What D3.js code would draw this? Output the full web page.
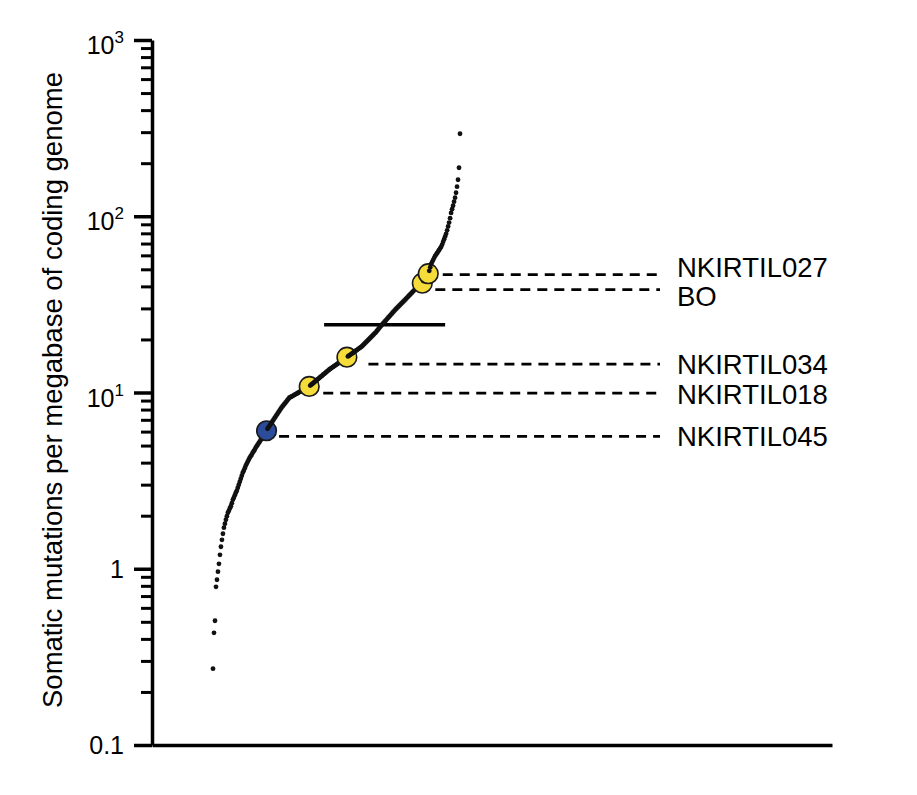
<!DOCTYPE html>
<html><head><meta charset="utf-8">
<script src="https://cdn.jsdelivr.net/npm/d3@7"></script>
<style>body{margin:0;background:#fff} svg{display:block}</style>
</head><body><svg id="c" width="917" height="795"></svg>
<script>
// Somatic mutations per Mb, samples sorted by rank
const mutationRate = [
 0.271,0.433,0.507,0.79,0.866,0.962,1.067,1.20,1.333,1.46,
 1.58,1.71,1.80,1.897,1.986,2.078,2.133,2.204,2.262,2.353,
 2.463,2.528,2.612,2.699,2.771,2.882,2.997,3.117,3.241,3.371,
 3.505,3.597,3.717,3.840,3.941,4.046,4.153,4.264,4.348,4.434,
 4.551,4.641,4.733,4.858,4.955,5.053,5.153,5.255,5.359,5.465,
 5.574,5.684,5.834,5.950,6.067,6.228,6.351,6.477,6.605,6.736,
 6.869,7.005,7.144,7.285,7.429,7.576,7.727,7.880,8.035,8.194,
 8.335,8.467,8.610,8.746,8.885,9.036,9.193,9.338,9.41,9.473,
 9.547,9.610,9.685,9.761,9.824,9.902,9.967,10.05,10.13,10.19,
 10.27,10.34,10.42,10.50,10.57,10.65,10.74,10.82,10.94,11.07,
 11.18,11.30,11.43,11.55,11.67,11.81,11.94,12.06,12.21,12.33,
 12.46,12.61,12.74,12.88,13.03,13.17,13.32,13.46,13.59,13.71,
 13.84,13.96,14.09,14.22,14.35,14.48,14.62,14.75,14.89,15.02,
 15.16,15.30,15.44,15.58,15.70,15.87,16.02,16.16,16.31,16.46,
 16.61,16.77,16.92,17.10,17.26,17.41,17.57,17.74,17.90,18.09,
 18.25,18.49,18.73,18.98,19.23,19.48,19.73,20.00,20.26,20.53,
 20.80,21.07,21.35,21.66,21.88,22.29,22.64,23.00,23.36,23.73,
 24.11,24.49,24.85,25.20,25.57,25.94,26.35,26.73,27.12,27.51,
 27.91,28.35,28.76,29.17,29.60,29.99,30.38,30.77,31.18,31.59,
 32.00,32.42,32.85,33.29,33.72,34.21,34.67,35.16,35.63,36.10,
 36.62,37.11,37.64,38.13,38.68,39.19,39.71,40.28,40.81,41.20,
 41.45,41.70,42.90,44.37,45.19,46.03,46.60,47.20,49.00,51.40,
 53.70,55.12,56.57,58.07,59.61,60.72,61.92,63.14,64.39,65.75,
 67.05,69.09,71.58,74.15,76.81,79.46,83.18,87.52,92.10,97.54,
 104.4,109.7,114.7,120.9,127.4,135.9,147.1,161.1,188.4,293.8
];
const sampleNames = ["NKIRTIL045","NKIRTIL018","NKIRTIL034","BO","NKIRTIL027"];
const sampleRanks = [54,97,135,211,217];
const sampleGroup = ["nonresponder","responder","responder","responder","responder"];
const sampleLineValues = [5.63,9.93,14.5,38.3,46.6];
const medianValue = 24.2;
const medianRanks = [112,234];
const yMajorTicks = [0.1,1,10,100,1000];
const yTickBase = ["0.1","1","10","10","10"];
const yTickExp = ["","","1","2","3"];
const yTitle = "Somatic mutations per megabase of coding genome";

// ---- layout / style ----
const FONT = "'Liberation Sans', Arial, Helvetica, sans-serif";
const groupColor = {nonresponder:"#2c4b9a", responder:"#f6dc3b"};
const lineGap = [12.5,14,21.5,13,14.5];
const labelDy = [10,10.5,10,16,2.5];
const N = mutationRate.length;

const svg = d3.select("#c");
const x = d3.scaleLinear().domain([-61.5, 624]).range([152, 832]);
const y = d3.scaleLog().domain([0.1, 1000]).range([745, 40]);

// minor ticks
const minor = [];
for (let e = -1; e < 3; e++) for (let k = 2; k <= 9; k++) minor.push(k * Math.pow(10, e));

const gMinor = svg.append("g").attr("transform","translate(152,0)")
  .call(d3.axisLeft(y).tickValues(minor).tickSize(11).tickSizeOuter(0).tickFormat(""));
gMinor.select(".domain").remove();
gMinor.selectAll(".tick line").attr("stroke","#000").attr("stroke-width",3);

const gMajor = svg.append("g").attr("transform","translate(152,0)")
  .call(d3.axisLeft(y).tickValues(yMajorTicks).tickSize(18).tickSizeOuter(0).tickFormat(""));
gMajor.select(".domain").attr("stroke","#000").attr("stroke-width",3.5);
gMajor.selectAll(".tick line").attr("stroke","#000").attr("stroke-width",3.5);

const gX = svg.append("g").attr("transform","translate(0,745)")
  .call(d3.axisBottom(x).tickValues([]).tickSizeOuter(0));
gX.select(".domain").attr("stroke","#000").attr("stroke-width",3.5);

// tick labels
yMajorTicks.forEach((v,i)=>{
  const t = svg.append("text").attr("x",124).attr("text-anchor","end")
    .attr("font-family",FONT).attr("font-size",25).attr("fill","#000");
  if (yTickExp[i]) {
    t.attr("y", y(v) + 14);
    t.append("tspan").text(yTickBase[i]);
    t.append("tspan").attr("font-size",17).attr("dy",-11).text(yTickExp[i]);
  } else {
    t.attr("y", y(v) + 9).text(yTickBase[i]);
  }
});

// axis title
svg.append("text").attr("transform","translate(62,390) rotate(-90)")
  .attr("text-anchor","middle").attr("font-family",FONT).attr("font-size",27.5)
  .attr("fill","#000").text(yTitle);

// median line
svg.append("line")
  .attr("x1",x(medianRanks[0])).attr("x2",x(medianRanks[1]))
  .attr("y1",y(medianValue)).attr("y2",y(medianValue))
  .attr("stroke","#000").attr("stroke-width",3.5);

// dashed lines + labels
sampleNames.forEach((name,i)=>{
  const cx = x(sampleRanks[i]);
  const ly = y(sampleLineValues[i]);
  svg.append("line").attr("x1",cx+lineGap[i]).attr("x2",660)
    .attr("y1",ly).attr("y2",ly).attr("stroke","#000").attr("stroke-width",2.8)
    .attr("stroke-dasharray","10,7");
  svg.append("text").attr("x",677).attr("y",ly+labelDy[i])
    .attr("font-family",FONT).attr("font-size",27.5).attr("fill","#000").text(name);
});

// points, drawn in rank order; highlighted samples are large circles
const hi = {};
sampleRanks.forEach((r,i)=>hi[r]=i);
const pts = mutationRate.map((v,i)=>({i, v, h: hi[i]}));
svg.append("g").selectAll("circle").data(pts).join("circle")
  .attr("cx",d=>x(d.i)).attr("cy",d=>y(d.v))
  .attr("r",d=>d.h===undefined?2.4:9.8)
  .attr("fill",d=>d.h===undefined?"#111":groupColor[sampleGroup[d.h]])
  .attr("stroke",d=>d.h===undefined?"none":"#1a1a1a")
  .attr("stroke-width",1.6);
</script></body></html>
